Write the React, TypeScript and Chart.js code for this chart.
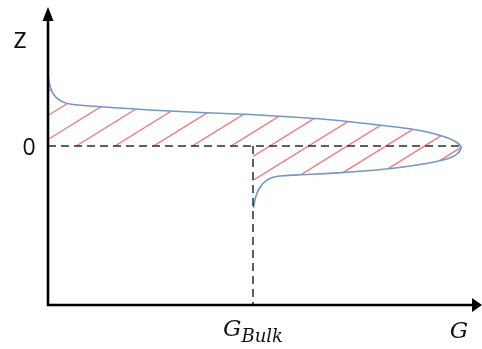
import React, { useEffect, useRef } from 'react';
import { Chart, registerables } from 'chart.js';

Chart.register(...registerables);

// Profile curve, upper branch (from the z axis to the tip)
const upperG = [0, 0.1, 0.3, 0.6, 1.0, 1.5, 2.2, 4.2, 7.2, 10.2, 15.2, 20.2, 25.2, 28.5, 32.2, 35.2, 36.9, 38.7, 40.0, 40.8, 41.3];
const upperZ = [7.1, 6.4, 5.7, 5.1, 4.7, 4.4, 4.2, 4.0, 3.8, 3.6, 3.35, 3.15, 2.85, 2.6, 2.2, 1.85, 1.6, 1.2, 0.8, 0.4, -0.05];
// Lower branch (from the tip back to G_Bulk)
const lowerG = [41.2, 40.9, 40.4, 39.6, 38.5, 37.0, 35.5, 34.0, 32.2, 30.2, 27.7, 25.2, 23.5, 22.6, 22.0, 21.5, 21.1, 20.8, 20.65, 20.55];
const lowerZ = [-0.45, -0.8, -1.1, -1.38, -1.62, -1.88, -2.1, -2.28, -2.45, -2.6, -2.76, -2.88, -2.98, -3.1, -3.35, -3.75, -4.3, -5.0, -5.6, -6.2];

const G_BULK = 20.5;
const ZERO_END = 41.3;
const G_RANGE = [0, 42.2];
const Z_RANGE = [-15.9, 12.6];

const LABEL_Z = 'z';
const LABEL_ZERO = '0';
const LABEL_G = 'G';
const LABEL_BULK = 'Bulk';

const curveG = [...upperG, ...lowerG];
const curveZ = [...upperZ, ...lowerZ];

const schematicPlugin = {
  id: 'schematic',
  beforeDatasetsDraw(chart: any) {
    const { ctx, chartArea, scales } = chart;
    const xs = scales.x;
    const ys = scales.y;
    ctx.save();
    ctx.beginPath();
    curveG.forEach((g, i) => {
      const px = xs.getPixelForValue(g);
      const py = ys.getPixelForValue(curveZ[i]);
      if (i === 0) ctx.moveTo(px, py);
      else ctx.lineTo(px, py);
    });
    ctx.lineTo(xs.getPixelForValue(G_BULK), ys.getPixelForValue(0));
    ctx.lineTo(xs.getPixelForValue(0), ys.getPixelForValue(0));
    ctx.closePath();
    ctx.clip();
    ctx.strokeStyle = '#f27c7c';
    ctx.lineWidth = 1.4;
    const slope = 0.62;
    const spacing = 24;
    const left = chartArea.left;
    const right = chartArea.right;
    const phase = ys.getPixelForValue(0) - 6.5;
    for (let k = -10; k < 40; k++) {
      const y0 = phase + k * spacing;
      ctx.beginPath();
      ctx.moveTo(left, y0);
      ctx.lineTo(right, y0 - slope * (right - left));
      ctx.stroke();
    }
    ctx.restore();
  },
  afterDraw(chart: any) {
    const { ctx, scales } = chart;
    const xs = scales.x;
    const ys = scales.y;
    const ax = xs.getPixelForValue(0);
    const ay = ys.getPixelForValue(Z_RANGE[0]);
    const topY = ys.getPixelForValue(Z_RANGE[1]);
    const rightX = xs.getPixelForValue(G_RANGE[1]);
    ctx.save();
    ctx.strokeStyle = '#000';
    ctx.fillStyle = '#000';
    ctx.lineWidth = 2.6;
    ctx.beginPath();
    ctx.moveTo(ax, topY);
    ctx.lineTo(ax, ay);
    ctx.lineTo(rightX + 3, ay);
    ctx.stroke();
    // arrows
    ctx.beginPath();
    ctx.moveTo(ax, topY - 13);
    ctx.lineTo(ax - 5.5, topY + 1);
    ctx.lineTo(ax + 5.5, topY + 1);
    ctx.closePath();
    ctx.fill();
    ctx.beginPath();
    ctx.moveTo(rightX + 12, ay);
    ctx.lineTo(rightX + 2, ay - 7);
    ctx.lineTo(rightX + 2, ay + 7);
    ctx.closePath();
    ctx.fill();

    // labels
    ctx.fillStyle = '#111';
    ctx.textBaseline = 'alphabetic';
    ctx.textAlign = 'center';
    ctx.font = '500 29px "Open Sans"';
    ctx.fillText(LABEL_Z, 20, 48);
    ctx.font = '23px "Open Sans"';
    ctx.fillText(LABEL_ZERO, 29, ys.getPixelForValue(0) + 9);

    ctx.textAlign = 'left';
    const bigFont = 'italic 23px "DejaVu Serif"';
    const subFont = 'italic 18px "DejaVu Serif"';
    ctx.font = bigFont;
    const gw = ctx.measureText(LABEL_G).width;
    ctx.font = subFont;
    const bw = ctx.measureText(LABEL_BULK).width;
    const cx = xs.getPixelForValue(G_BULK);
    const sx = cx - (gw + bw) / 2;
    ctx.font = bigFont;
    ctx.fillText(LABEL_G, sx, ay + 31);
    ctx.font = subFont;
    ctx.fillText(LABEL_BULK, sx + gw, ay + 37);
    ctx.font = bigFont;
    ctx.textAlign = 'center';
    ctx.fillText(LABEL_G, rightX - 11, ay + 33);
    ctx.restore();
  },
};

export default function App() {
  const canvasRef = useRef<HTMLCanvasElement | null>(null);

  useEffect(() => {
    if (!canvasRef.current) return;
    const chart = new Chart(canvasRef.current, {
      type: 'scatter',
      data: {
        datasets: [
          {
            data: [
              { x: 0, y: 0 },
              { x: ZERO_END, y: 0 },
            ],
            showLine: true,
            borderColor: '#2b2b2b',
            borderWidth: 1.5,
            borderDash: [8, 5],
            pointRadius: 0,
          },
          {
            data: [
              { x: G_BULK, y: 0 },
              { x: G_BULK, y: Z_RANGE[0] },
            ],
            showLine: true,
            borderColor: '#2b2b2b',
            borderWidth: 1.5,
            borderDash: [8, 5],
            pointRadius: 0,
          },
          {
            data: curveG.map((g, i) => ({ x: g, y: curveZ[i] })),
            showLine: true,
            borderColor: '#7498c4',
            borderWidth: 1.6,
            tension: 0.25,
            pointRadius: 0,
          },
        ],
      },
      options: {
        animation: false,
        responsive: true,
        maintainAspectRatio: false,
        layout: { padding: { left: 48, right: 12, top: 20, bottom: 44 } },
        scales: {
          x: { type: 'linear', display: false, min: G_RANGE[0], max: G_RANGE[1] },
          y: { type: 'linear', display: false, min: Z_RANGE[0], max: Z_RANGE[1] },
        },
        plugins: {
          legend: { display: false },
          tooltip: { enabled: false },
        },
      },
      plugins: [schematicPlugin],
    });
    return () => chart.destroy();
  }, []);

  return (
    <div style={{ position: 'fixed', left: 0, top: 0, width: 482, height: 349, background: '#fff' }}>
      <canvas ref={canvasRef} />
    </div>
  );
}
